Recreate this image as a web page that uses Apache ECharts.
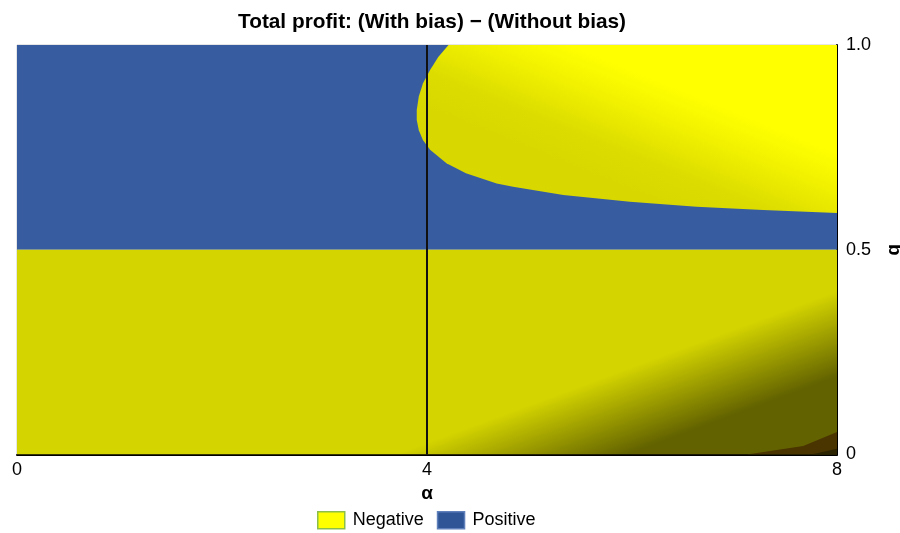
<!DOCTYPE html>
<html>
<head>
<meta charset="utf-8">
<script src="https://cdn.jsdelivr.net/npm/echarts@6/dist/echarts.min.js"></script>
<style>html,body{margin:0;padding:0;background:#fff}#c{width:900px;height:533px}</style>
</head>
<body>
<div id="c"></div>
<script>
// ---- data ----
const titleText = 'Total profit: (With bias) \u2212 (Without bias)';
const xName = '\u03b1';
const yName = 'b';
const xTicks = [0, 4, 8];
const yTicks = [0, 0.5, 1.0];
const yTickLabels = ['0', '0.5', '1.0'];
// Regions (alpha, b)
const positiveRegion = [[0, 0.5], [8, 0.5], [8, 1.0], [0, 1.0]];
const negativeLower = [[0, 0], [8, 0], [8, 0.5], [0, 0.5]];
const negativeUpper = [
  [4.21, 1.0], [4.11, 0.971], [4.03, 0.939], [3.96, 0.906], [3.92, 0.874],
  [3.90, 0.841], [3.90, 0.817], [3.92, 0.792], [3.96, 0.768], [4.03, 0.744],
  [4.19, 0.711], [4.38, 0.687], [4.68, 0.662], [4.84, 0.654], [5.33, 0.634],
  [5.98, 0.617], [6.63, 0.605], [7.28, 0.597], [8.0, 0.590], [8.0, 1.0]
];
const deepNegative = [[7.12, 0], [7.67, 0.021], [8.0, 0.055], [8.0, 0]];
const deepestNegative = [[7.75, 0], [8.0, 0.014], [8.0, 0]];
const alphaLine = [[4, 0], [4, 1]];

const FONT = "'Liberation Sans', Arial, Helvetica, sans-serif";
const BLUE = '#375da0';

function polySeries(name, pts, fill, z) {
  return {
    type: 'custom', name: name, data: pts, z: z, clip: true,
    encode: { x: 0, y: 1 },
    itemStyle: { color: name === 'Positive' ? BLUE : '#ffff00' },
    silent: true,
    renderItem: function (params, api) {
      if (params.dataIndex !== 0) return;
      return {
        type: 'polygon',
        shape: { points: pts.map(function (p) { return api.coord(p); }) },
        style: { fill: fill, stroke: null }
      };
    }
  };
}

const chart = echarts.init(document.getElementById('c'), null, { renderer: 'canvas' });
chart.setOption({
  animation: false,
  backgroundColor: '#fff',
  title: {
    text: titleText, left: 427, top: 7, textAlign: 'center',
    textStyle: { fontFamily: FONT, fontSize: 20.8, fontWeight: 'bold', color: '#000' }
  },
  legend: {
    left: 317, top: 511, padding: 0, itemWidth: 27, itemHeight: 17, itemGap: 13,
    icon: 'rect',
    textStyle: { fontFamily: FONT, fontSize: 18, color: '#000', padding: [0, 0, 0, 3] },
    data: [
      { name: 'Negative', itemStyle: { color: '#ffff00', borderColor: '#8cbf4a', borderWidth: 1.5 } },
      { name: 'Positive', itemStyle: { color: '#2f5597', borderColor: '#5f80bb', borderWidth: 1.5 } }
    ]
  },
  grid: { left: 17, right: 63, top: 45, bottom: 78.5, show: true, borderColor: '#cccccc', borderWidth: 1,
    containLabel: false, outerBoundsMode: 'none' },
  xAxis: {
    type: 'value', min: xTicks[0], max: xTicks[xTicks.length - 1], interval: 4,
    name: xName, nameLocation: 'middle', nameGap: 30,
    nameTextStyle: { fontFamily: FONT, fontSize: 19, fontWeight: 'bold', color: '#000' },
    axisLine: { show: true, onZero: false, lineStyle: { color: '#000', width: 2 } },
    axisTick: { show: false }, splitLine: { show: false },
    axisLabel: { margin: 7, fontFamily: FONT, fontSize: 18, color: '#000',
      formatter: function (v) { return xTicks.indexOf(v) >= 0 ? String(v) : ''; } }
  },
  yAxis: {
    type: 'value', position: 'right', min: yTicks[0], max: yTicks[yTicks.length - 1], interval: 0.5,
    name: yName, nameLocation: 'middle', nameGap: 48, nameRotate: -90,
    nameTextStyle: { fontFamily: FONT, fontSize: 19, fontWeight: 'bold', color: '#000' },
    axisLine: { show: true, onZero: false, lineStyle: { color: '#000', width: 2 } },
    axisTick: { show: false }, splitLine: { show: false },
    axisLabel: { margin: 9, fontFamily: FONT, fontSize: 18, color: '#000',
      formatter: function (v) { const i = yTicks.indexOf(v); return i >= 0 ? yTickLabels[i] : ''; } }
  },
  series: [
    polySeries('Positive', positiveRegion, BLUE, 1),
    polySeries('Negative', negativeLower, {
      type: 'linear', x: 0.745, y: 0.58, x2: 0.779, y2: 0.948,
      colorStops: [{ offset: 0, color: '#d4d400' }, { offset: 1, color: '#626200' }]
    }, 2),
    polySeries('Negative', negativeUpper, {
      type: 'linear', x: 0.56, y: 0.92, x2: 0.66, y2: 0.30,
      colorStops: [{ offset: 0, color: '#d8d800' }, { offset: 0.3, color: '#dcdc00' }, { offset: 0.75, color: '#f4f400' }, { offset: 1, color: '#ffff00' }]
    }, 3),
    polySeries('Negative', deepNegative, {
      type: 'linear', x: 0, y: 0, x2: 0.3, y2: 1,
      colorStops: [{ offset: 0, color: '#513a00' }, { offset: 1, color: '#4a3400' }]
    }, 4),
    polySeries('Negative', deepestNegative, '#2c2400', 5),
    {
      type: 'line', name: 'alpha4', data: alphaLine, z: 6, symbol: 'none', silent: true,
      lineStyle: { color: '#111', width: 2 }
    }
  ]
});
</script>
</body>
</html>
